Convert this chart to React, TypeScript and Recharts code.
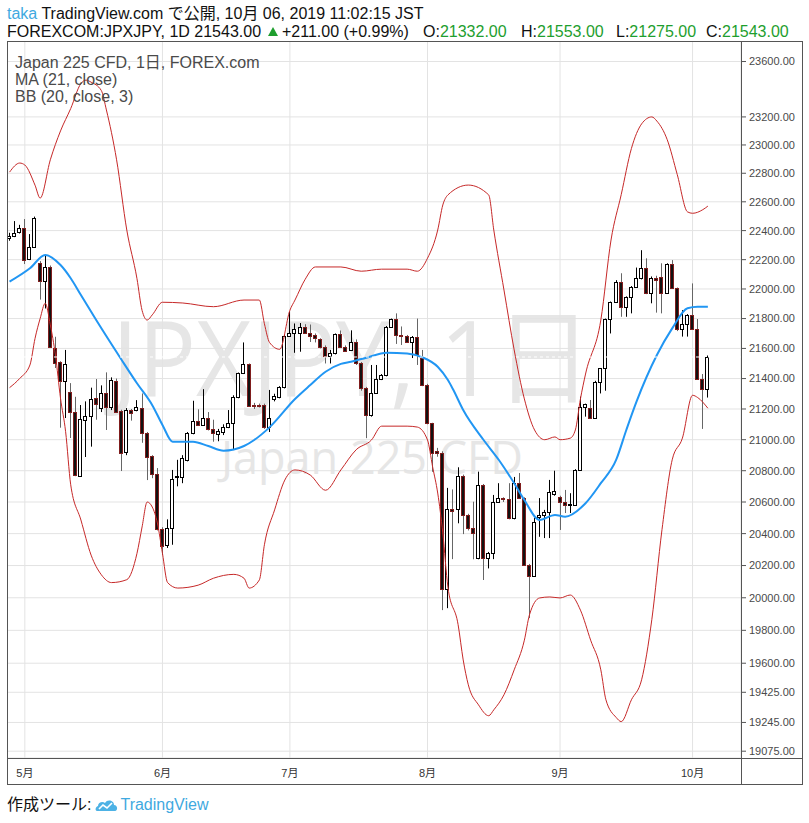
import React from 'react';
import { ComposedChart, Bar, Line, XAxis, YAxis, CartesianGrid, ReferenceLine } from 'recharts';

// daily bars (Sun-Fri sessions), 2019-04-28 .. 2019-10-04
const opens = [
  22347, 22365, 22388, 22416, 22204, 22289, 22174, 22052, 22150, 21605, 21507, 21384, 21309, 21183, 20768, 21128, 21155, 21270, 21205, 21303,
  21215, 21385, 21189, 20922, 21193, 21193, 21209, 21042, 20894, 20777, 20427, 20330, 20433, 20760, 20760, 20870, 21041, 21121, 21095, 21143,
  21068, 21035, 21052, 21081, 21107, 21280, 21434, 21494, 21225, 21225, 21226, 21081, 21266, 21276, 21342, 21683, 21700, 21702, 21741, 21702,
  21690, 21661, 21611, 21549, 21567, 21694, 21611, 21590, 21641, 21500, 21340, 21160, 21306, 21395, 21423, 21742, 21795, 21690, 21683, 21645,
  21679, 21534, 21357, 21110, 20924, 20917, 20052, 20554, 20554, 20766, 20518, 20434, 20245, 20709, 20245, 20277, 20602, 20623, 20617, 20496,
  20723, 20623, 20203, 20135, 20505, 20520, 20535, 20650, 20630, 20602, 20581, 20581, 20805, 21215, 21205, 21140, 21379, 21467, 21797, 21910,
  22050, 21881, 21944, 22016, 22073, 22141, 21971, 22077, 22080, 21975, 22170, 22005, 21728, 21766, 21823, 21733, 21400, 21332,
];
const highs = [
  22385, 22466, 22440, 22480, 22376, 22497, 22190, 22231, 22160, 21678, 21515, 21590, 21370, 21280, 21226, 21250, 21340, 21397, 21355, 21441,
  21408, 21400, 21195, 21206, 21200, 21258, 21302, 21050, 20900, 20817, 20440, 20490, 20805, 20870, 20900, 21050, 21254, 21198, 21330, 21180,
  21130, 21070, 21100, 21193, 21290, 21440, 21640, 21500, 21240, 21235, 21235, 21325, 21300, 21350, 21690, 21845, 21767, 21770, 21762, 21760,
  21700, 21668, 21620, 21590, 21700, 21720, 21620, 21721, 21660, 21510, 21345, 21490, 21490, 21430, 21750, 21800, 21835, 21747, 21690, 21683,
  21800, 21590, 21365, 21110, 20947, 20925, 20690, 20680, 20822, 20775, 20525, 20602, 20794, 20715, 20285, 20645, 20720, 20630, 20720, 20760,
  20785, 20630, 20210, 20500, 20625, 20550, 20741, 20800, 20640, 20677, 20656, 20810, 21281, 21235, 21259, 21385, 21470, 21800, 21915, 22060,
  22107, 21950, 22020, 22146, 22265, 22209, 22085, 22090, 22175, 22175, 22197, 22010, 21857, 21830, 22038, 21797, 21430, 21553,
];
const lows = [
  22330, 22355, 22380, 22170, 22197, 22280, 21928, 21868, 21603, 21470, 21078, 21141, 21011, 20765, 20760, 20888, 20955, 21130, 21180, 21063,
  21193, 21174, 20798, 20900, 21124, 21185, 20980, 20740, 20752, 20420, 20266, 20310, 20330, 20700, 20720, 20860, 21035, 21090, 21090, 21060,
  20987, 20990, 21030, 21075, 20933, 21270, 21430, 21215, 21200, 21210, 21070, 21050, 21250, 21270, 21335, 21680, 21571, 21578, 21700, 21643,
  21640, 21600, 21500, 21500, 21560, 21605, 21580, 21585, 21490, 21320, 21010, 21150, 21300, 21390, 21415, 21738, 21630, 21623, 21640, 21536,
  21490, 21350, 21100, 20793, 20890, 19924, 19936, 20240, 20465, 20397, 20420, 20239, 20239, 20110, 20182, 20240, 20595, 20600, 20490, 20490,
  20620, 20200, 19875, 20130, 20380, 20372, 20372, 20640, 20423, 20530, 20530, 20575, 20800, 21150, 21135, 21135, 21302, 21320, 21700, 21905,
  21812, 21812, 21835, 22010, 22065, 21965, 21903, 21840, 21835, 21970, 22000, 21716, 21679, 21679, 21725, 21395, 21070, 21275,
];
const closes = [
  22365, 22386, 22416, 22197, 22289, 22486, 22052, 22150, 21611, 21501, 21384, 21494, 21183, 20772, 21133, 21155, 21265, 21230, 21303, 21215,
  21390, 21183, 20916, 21193, 21172, 21211, 21042, 20890, 20777, 20427, 20324, 20433, 20750, 20765, 20880, 21041, 21121, 21095, 21143, 21068,
  21041, 21058, 21081, 21107, 21280, 21434, 21494, 21220, 21220, 21218, 21081, 21143, 21284, 21342, 21683, 21701, 21730, 21741, 21702, 21686,
  21668, 21611, 21549, 21567, 21694, 21611, 21585, 21641, 21500, 21335, 21158, 21306, 21395, 21423, 21742, 21795, 21690, 21683, 21645, 21679,
  21556, 21357, 21110, 20915, 20915, 20052, 20553, 20545, 20766, 20518, 20434, 20402, 20709, 20245, 20277, 20602, 20623, 20617, 20496, 20723,
  20623, 20203, 20135, 20475, 20520, 20535, 20666, 20670, 20602, 20581, 20587, 20805, 21215, 21231, 21140, 21379, 21467, 21797, 21910, 22050,
  21880, 21945, 22016, 22073, 22141, 21971, 22077, 22060, 21975, 22170, 22005, 21727, 21766, 21823, 21733, 21400, 21332, 21543,
];

// indicator lines as [bar index, value]
const maPts = [
  [0, 22050], [4, 22141], [7, 22232], [10, 22163], [12, 22073], [14, 21959], [17, 21790], [22, 21523], [25, 21369], [28, 21225],
  [30, 21096], [32, 20987], [36, 20987], [39, 20959], [42, 20929], [46, 20959], [48, 20998], [51, 21080], [56, 21265], [59, 21357],
  [62, 21445], [65, 21497], [67, 21512], [70, 21538], [74, 21571], [78, 21567], [81, 21541], [84, 21478], [86, 21390], [87, 21329],
  [89, 21193], [93, 20998], [96, 20869], [99, 20720], [101, 20613], [104, 20486], [107, 20518], [109, 20507], [113, 20592], [116, 20720],
  [119, 20869], [121, 21063], [123, 21248], [127, 21556], [130, 21734], [133, 21870], [135, 21880], [137, 21880],
];
const bbUpPts = [
  [0, 22808], [2, 22872], [3, 22858], [5, 22716], [6, 22626], [8, 22895], [10, 23100], [12, 23260], [14, 23440], [15, 23465],
  [16, 23450], [18, 23390], [19, 23250], [21, 22895], [23, 22404], [25, 22070], [26, 21855], [27, 21790], [28, 21825], [30, 21910],
  [34, 21905], [40, 21880], [46, 21925], [49, 21925], [50, 21765], [51, 21640], [53, 21594], [55, 21856], [56, 21925], [58, 22066],
  [60, 22150], [65, 22150], [69, 22121], [73, 22135], [78, 22135], [80, 22121], [82, 22210], [84, 22404], [85, 22578], [86, 22648],
  [90, 22717], [94, 22648], [95, 22404], [97, 21993], [99, 21590], [101, 21266], [103, 21063], [105, 21000], [107, 21018], [108, 21000],
  [110, 21010], [111, 21063], [112, 21266], [113, 21430], [116, 21790], [118, 22335], [120, 22650], [122, 22975], [124, 23150], [126, 23200],
  [127, 23170], [129, 23040], [131, 22790], [133, 22530], [134, 22520], [136, 22545], [137, 22570],
];
const bbLoPts = [
  [0, 21340], [2, 21401], [4, 21490], [5, 21667], [6, 21800], [7, 21903], [8, 21757], [9, 21556], [10, 21270], [11, 21052],
  [12, 20710], [14, 20486], [16, 20265], [18, 20143], [20, 20094], [23, 20112], [25, 20276], [26, 20442], [27, 20600], [28, 20568],
  [29, 20467], [30, 20276], [31, 20094], [33, 20060], [37, 20078], [40, 20121], [44, 20145], [46, 20121], [47, 20060], [49, 20110],
  [50, 20330], [52, 20550], [54, 20740], [56, 20805], [59, 20772], [62, 20675], [65, 20805], [68, 20935], [71, 20998], [73, 21088],
  [78, 21088], [80, 21082], [82, 20998], [83, 20825], [84, 20657], [85, 20404], [86, 20066], [88, 19835], [89, 19620], [90, 19470],
  [92, 19350], [94, 19285], [95, 19320], [97, 19410], [99, 19560], [101, 19740], [102, 19895], [104, 19999], [106, 20005], [108, 19999],
  [110, 20017], [112, 19924], [114, 19740], [116, 19560], [117, 19380], [119, 19275], [120, 19250], [122, 19380], [124, 19500], [126, 19865],
  [128, 20425], [130, 20870], [132, 21010], [134, 21290], [135, 21275], [137, 21205],
];

const yTicks = [19075, 19245, 19425, 19600, 19800, 20000, 20200, 20400, 20600, 20800, 21000, 21200, 21400, 21600, 21800, 22000, 22200, 22400, 22600, 22800, 23000, 23200, 23600];
const monthTicks = ['5/1', '6/2', '7/1', '8/1', '9/1', '10/1'];

const FONT = '"Liberation Sans", Arial, "Noto Sans CJK JP", sans-serif';
const WM_FONT = '"Open Sans", "Noto Sans CJK JP", sans-serif';
const GREEN = '#1e9e2e';

// session dates Sun-Fri, plus empty slots to the right like TradingView leaves
const buildDates = () => {
  const out: string[] = [];
  const d = new Date(Date.UTC(2019, 3, 28));
  const end = Date.UTC(2019, 9, 11);
  while (d.getTime() <= end) {
    if (d.getUTCDay() !== 6) out.push(`${d.getUTCMonth() + 1}/${d.getUTCDate()}`);
    d.setUTCDate(d.getUTCDate() + 1);
  }
  return out;
};

const dates = buildDates();
const toMap = (pts: number[][]) => new Map(pts.map(([i, v]) => [i, v]));
const maMap = toMap(maPts);
const upMap = toMap(bbUpPts);
const loMap = toMap(bbLoPts);

const data = dates.map((d, i) => {
  const has = i < opens.length;
  return {
    d,
    o: has ? opens[i] : null,
    h: has ? highs[i] : null,
    l: has ? lows[i] : null,
    c: has ? closes[i] : null,
    range: has ? [lows[i], highs[i]] : null,
    ma: maMap.get(i) ?? null,
    bbU: upMap.get(i) ?? null,
    bbL: loMap.get(i) ?? null,
  };
});

const Candle = (props: any) => {
  const { x, y, width, height, payload } = props;
  if (!payload || payload.o == null || !isFinite(y) || !isFinite(height)) return null;
  const { o, h, l, c } = payload;
  const yTop = Math.min(y, y + height);
  const yBot = Math.max(y, y + height);
  const lh = Math.log(h);
  const span = lh - Math.log(l);
  const py = (v: number) => (span > 0 ? yTop + ((lh - Math.log(v)) / span) * (yBot - yTop) : yTop);
  const f = Math.floor(x + width / 2);
  const up = c >= o;
  const bTop = Math.round(py(Math.max(o, c)));
  let bBot = Math.round(py(Math.min(o, c)));
  if (bBot - bTop < 1) bBot = bTop + 1;
  return (
    <g>
      <line x1={f + 0.5} x2={f + 0.5} y1={yTop} y2={yBot} stroke={up ? '#000' : '#666'} strokeWidth={1} />
      <rect x={f - 1.5} y={bTop + 0.5} width={3} height={bBot - bTop} fill={up ? '#fff' : '#111'} stroke={up ? '#000' : '#7f1d1d'} strokeWidth={1} />
    </g>
  );
};

const last = opens.length - 1;
const change = closes[last] - closes[last - 1];

const seg = (left: number, children: React.ReactNode) => (
  <span style={{ position: 'absolute', left, top: 0 }}>{children}</span>
);

const App = () => {
  return (
    <div style={{ position: 'absolute', left: 0, top: 0, width: 809, height: 823, background: '#fff', fontFamily: FONT, color: '#111' }}>
      <div style={{ position: 'absolute', left: 7, top: 5, fontSize: 16, lineHeight: '17px', whiteSpace: 'nowrap' }}>
        <span style={{ color: '#3fa9e0' }}>taka</span> TradingView.com で公開, 10月 06, 2019 11:02:15 JST
      </div>
      <div style={{ position: 'absolute', left: 0, top: 23, width: 809, height: 17, fontSize: 16, lineHeight: '17px', whiteSpace: 'nowrap' }}>
        {seg(7, <>FOREXCOM:JPXJPY, 1D {closes[last].toFixed(2)}</>)}
        {seg(267, (
          <svg width={12} height={11}>
            <polygon points="6,1 11,10 1,10" fill={GREEN} />
          </svg>
        ))}
        {seg(282, <>+{change.toFixed(2)} (+{((change / closes[last - 1]) * 100).toFixed(2)}%)</>)}
        {seg(423, <>O:<span style={{ color: GREEN }}>{opens[last].toFixed(2)}</span></>)}
        {seg(521, <>H:<span style={{ color: GREEN }}>{highs[last].toFixed(2)}</span></>)}
        {seg(616, <>L:<span style={{ color: GREEN }}>{lows[last].toFixed(2)}</span></>)}
        {seg(706, <>C:<span style={{ color: GREEN }}>{closes[last].toFixed(2)}</span></>)}
      </div>

      {/* watermark */}
      <svg width={809} height={823} style={{ position: 'absolute', left: 0, top: 0 }}>
        <text x={112} y={396} textLength={480} lengthAdjust="spacingAndGlyphs" fontSize={104} fill="#e6e6e6" fontFamily={WM_FONT}>JPXJPY, 1日</text>
        <text x={372} y={474} textAnchor="middle" fontSize={45} fill="#e6e6e6" fontFamily={WM_FONT}>Japan 225 CFD</text>
      </svg>

      <div style={{ position: 'absolute', left: 7, top: 41 }}>
        <ComposedChart width={795} height={743} data={data} margin={{ top: 0, right: 0, bottom: 0, left: 0 }}>
          <CartesianGrid stroke="#e3e3e3" />
          <XAxis
            dataKey="d"
            ticks={monthTicks}
            interval={0}
            tickLine={false}
            axisLine={false}
            height={26}
            tickMargin={5}
            tick={{ fontSize: 11, fill: '#333', fontFamily: FONT }}
            tickFormatter={(v: string) => `${v.split('/')[0]}月`}
          />
          <YAxis
            orientation="right"
            scale="log"
            domain={[19035, 23750]}
            allowDataOverflow
            ticks={yTicks}
            interval={0}
            width={61}
            axisLine={false}
            tickSize={5}
            tickMargin={3}
            stroke="#555"
            tick={{ fontSize: 11, fill: '#4a4a4a', fontFamily: FONT }}
            tickFormatter={(v: number) => v.toFixed(2)}
          />
          <Bar dataKey="range" shape={(p: any) => <Candle {...p} />} isAnimationActive={false} />
          <Line dataKey="bbU" type="monotone" stroke="#c62828" strokeWidth={1} dot={false} connectNulls isAnimationActive={false} />
          <Line dataKey="bbL" type="monotone" stroke="#c62828" strokeWidth={1} dot={false} connectNulls isAnimationActive={false} />
          <Line dataKey="ma" type="monotone" stroke="#2196f3" strokeWidth={2} dot={false} connectNulls isAnimationActive={false} />
          <ReferenceLine y={closes[last]} stroke="#fff" strokeDasharray="3 3" />
        </ComposedChart>
      </div>

      {/* frame and separators */}
      <div style={{ position: 'absolute', left: 7, top: 41, width: 796, height: 744, boxSizing: 'border-box', border: '1px solid #555', pointerEvents: 'none' }} />
      <div style={{ position: 'absolute', left: 741, top: 41, width: 1, height: 744, background: '#555' }} />
      <div style={{ position: 'absolute', left: 7, top: 758, width: 796, height: 1, background: '#555' }} />

      <div style={{ position: 'absolute', left: 15, top: 54, fontSize: 16, lineHeight: '17px', color: '#4a4a4a', whiteSpace: 'nowrap' }}>
        <div>Japan 225 CFD, 1日, FOREX.com</div>
        <div>MA (21, close)</div>
        <div>BB (20, close, 3)</div>
      </div>

      <div style={{ position: 'absolute', left: 7, top: 795, fontSize: 16, lineHeight: '20px', whiteSpace: 'nowrap', display: 'flex', alignItems: 'center' }}>
        <span>作成ツール:</span>
        <svg width={24} height={16} style={{ marginLeft: 4, marginRight: 1 }}>
          <path d="M2 14 C0 14 0 10 3 9 C3 5 8 4 10 6 C12 2 19 3 19 8 C23 8 23 14 20 14 Z" fill="#4db2e5" />
          <polyline points="4,12 8,8 12,11 17,6" fill="none" stroke="#fff" strokeWidth={1.6} />
        </svg>
        <span style={{ color: '#3fa9e0' }}>TradingView</span>
      </div>
    </div>
  );
};

export default App;
